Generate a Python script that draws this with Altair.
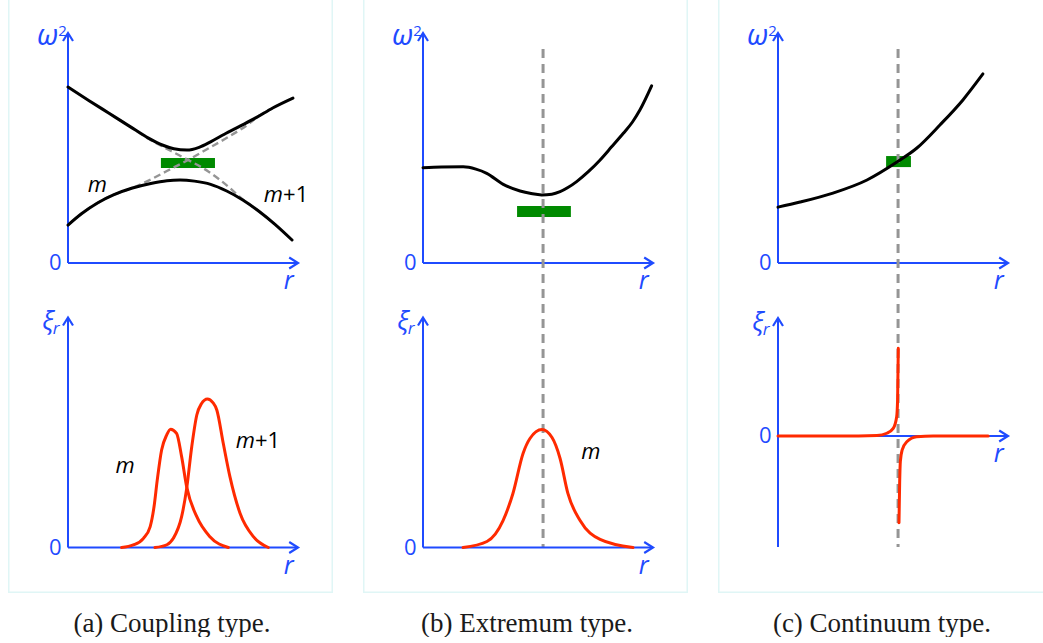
import altair as alt
import pandas as pd

# ---------------- data (r in axis units, axis arrow at r = 10) ----------------
# (a) coupling type: coupled omega^2 branches and the uncoupled m / m+1 branches
A_UP_R = [0, 0.9, 1.8, 2.7, 3.5, 4.1, 4.6, 5.17, 5.7, 6.2, 6.8, 7.5, 8.2, 8.9, 9.78]
A_UP_W = [7.65, 7.07, 6.5, 5.93, 5.43, 5.13, 4.97, 4.91, 5.03, 5.27, 5.6, 5.96, 6.33, 6.74, 7.17]
A_LO_R = [0, 0.6, 1.3, 2.0, 2.8, 3.6, 4.3, 4.87, 5.5, 6.2, 6.9, 7.6, 8.3, 9.0, 9.74]
A_LO_W = [1.65, 2.15, 2.62, 2.97, 3.26, 3.46, 3.58, 3.61, 3.56, 3.42, 3.13, 2.74, 2.25, 1.68, 1.0]
A_M_R = [0, 0.6, 1.3, 2.0, 2.8, 3.5, 4.3, 5.22, 6.1, 7.0, 7.9, 8.2, 8.9]
A_M_W = [1.65, 2.15, 2.62, 2.97, 3.26, 3.58, 4.0, 4.48, 4.98, 5.5, 6.08, 6.33, 6.74]
A_M1_R = [1.8, 2.7, 3.5, 4.5, 5.22, 6.1, 6.6, 7.04, 7.6, 8.3, 9.0]
A_M1_W = [6.5, 5.93, 5.40, 4.86, 4.48, 3.98, 3.62, 3.26, 2.76, 2.25, 1.68]
A_BAR_R = [4.04, 6.39]
A_BAR_W = [4.13, 4.57]
# (a) eigenfunctions
A_XM_R = [2.33, 2.84, 3.28, 3.57, 3.74, 3.88, 4.07, 4.29, 4.46, 4.72, 4.94, 5.16, 5.6, 6.17, 6.97]
A_XM = [0, 0.11, 0.4, 0.9, 1.77, 2.93, 4.24, 4.89, 5.14, 4.96, 3.95, 2.64, 1.34, 0.47, 0]
A_XM1_R = [3.78, 4.3, 4.58, 4.94, 5.16, 5.38, 5.6, 5.8, 6.06, 6.3, 6.47, 6.75, 7.04, 7.48,
           8.06, 8.71]
A_XM1 = [0, 0.12, 0.4, 1.34, 2.57, 4.38, 5.76, 6.25, 6.46, 6.3, 5.98, 4.53, 3.08, 1.49,
         0.47, 0]

# (b) extremum type
B_W_R = [0, 0.8, 1.75, 2.3, 2.77, 3.49, 4.22, 4.7, 5.16, 5.6, 5.96, 6.3, 6.68, 7.2,
         7.7, 8.2, 8.71, 9.1, 9.43, 9.94]
B_W = [4.14, 4.17, 4.18, 4.08, 3.9, 3.42, 3.13, 3.02, 2.96, 2.99, 3.1, 3.28, 3.54, 3.98,
       4.48, 5.05, 5.64, 6.12, 6.65, 7.7]
B_BAR_R = [4.09, 6.43]
B_BAR_W = [2.0, 2.48]
B_XI_R = [1.74, 2.78, 3.48, 3.91, 4.35, 4.65, 5.17, 5.61, 5.96, 6.3, 6.83, 7.7, 9.13]
B_XI = [0, 0.26, 1.17, 2.35, 4.09, 4.74, 5.13, 4.78, 3.87, 2.35, 1.17, 0.35, 0]

# (c) continuum type
C_W_R = [0, 0.96, 2.39, 3.87, 5.17, 6.04, 7.04, 8.04, 8.91]
C_W = [2.43, 2.65, 3.04, 3.61, 4.39, 5.0, 6.0, 7.09, 8.22]
C_BAR_R = [4.7, 5.78]
C_BAR_W = [4.17, 4.65]
C_XL_R = [0, 2.0, 3.5, 4.3, 4.73, 5.01, 5.16, 5.2, 5.23]
C_XL = [0, 0, 0, 0.02, 0.12, 0.33, 0.84, 1.57, 3.81]
C_XR_R = [5.26, 5.29, 5.32, 5.4, 5.6, 6.03, 6.75, 9.14]
C_XR = [-3.77, -2.0, -1.1, -0.6, -0.25, -0.03, 0, 0]

# resonance radius (dashed line) in (b) and (c), with its extent in omega^2 units
R_RES = 5.22
RES_W_TOP = 9.3
RES_W_BOTTOM = [-12.39, -12.35]

# axis extents
R_AXIS_END = 10
W_AXIS_END = 10
XI_AXIS_AB = [0, 10]
XI_AXIS_C = [-4.83, 5.13]

CAPTIONS = ["(a) Coupling type.", "(b) Extremum type.", "(c) Continuum type."]

# ---------------- styling / geometry ----------------
BLUE = "#1f4bff"
RED = "#ff2a00"
GREEN = "#008a00"
GRAY = "#959595"
FRAME = "#e0f6f6"
FONT = "'Open Sans', 'Noto Sans', 'DejaVu Sans', sans-serif"
SERIF = "'Liberation Serif', 'DejaVu Serif', serif"
ARROW_RIGHT = "M-1.6,-1L0,0L-1.6,1"
ARROW_UP = "M-1,1.6L0,0L1,1.6"

PX = 23.0            # pixels per unit on both axes
COL_W, COL_H = 325, 593
ORIGIN_X = 60        # pixel position of r = 0 inside a column
TOP_ORIGIN = 263     # pixel row of omega^2 = 0
EDGE = 1.5           # thickness of the panel frame

X_SCALE = alt.Scale(domain=[-ORIGIN_X / PX, (COL_W - ORIGIN_X) / PX], nice=False, zero=False)


def yscale(origin_px):
    return alt.Scale(domain=[-(COL_H - origin_px) / PX, origin_px / PX], nice=False, zero=False)


def xy(ys, yf="v"):
    return dict(x=alt.X("r:Q", scale=X_SCALE, axis=None),
                y=alt.Y(f"{yf}:Q", scale=ys, axis=None))


def curve(r, v, ys, color, width=3.0, dash=None):
    kw = dict(color=color, strokeWidth=width, interpolate="monotone", strokeCap="round")
    if dash:
        kw["strokeDash"] = dash
        kw["strokeCap"] = "butt"
    return alt.Chart(pd.DataFrame({"r": r, "v": v})).mark_line(**kw).encode(**xy(ys))


def bar(r, w, ys):
    df = pd.DataFrame({"r": [r[0]], "r2": [r[1]], "v": [w[0]], "v2": [w[1]]})
    return alt.Chart(df).mark_rect(color=GREEN).encode(**xy(ys), x2="r2:Q", y2="v2:Q")


def vline(r, top, bottom, ys):
    df = pd.DataFrame({"r": [r], "v": [top], "v2": [bottom]})
    return alt.Chart(df).mark_rule(color=GRAY, strokeWidth=3, strokeDash=[9, 6]).encode(
        **xy(ys), y2="v2:Q")


def axes(ys, v_lo, v_hi):
    h = alt.Chart(pd.DataFrame({"r": [0], "r2": [R_AXIS_END], "v": [0]})).mark_rule(
        color=BLUE, strokeWidth=2).encode(**xy(ys), x2="r2:Q")
    v = alt.Chart(pd.DataFrame({"r": [0], "v": [v_lo], "v2": [v_hi]})).mark_rule(
        color=BLUE, strokeWidth=2).encode(**xy(ys), y2="v2:Q")
    ar = alt.Chart(pd.DataFrame({"r": [R_AXIS_END], "v": [0]})).mark_point(
        shape=ARROW_RIGHT, size=121, color=BLUE, strokeWidth=2.2, opacity=1,
        filled=False).encode(**xy(ys))
    au = alt.Chart(pd.DataFrame({"r": [0], "v": [v_hi]})).mark_point(
        shape=ARROW_UP, size=100, color=BLUE, strokeWidth=2.2, opacity=1,
        filled=False).encode(**xy(ys))
    return [h, v, ar, au]


def text(rows, ys, size, color, align="center", baseline="alphabetic", italic=False, font=FONT):
    df = pd.DataFrame(rows, columns=["t", "r", "v"])
    return alt.Chart(df).mark_text(
        font=font, fontSize=size, fontStyle="italic" if italic else "normal",
        color=color, align=align, baseline=baseline).encode(**xy(ys), text="t:N")


def axis_labels(ys, kind, v_hi):
    out = []
    if kind == "w":
        out.append(text([("ω", -0.42, v_hi - 0.5)], ys, 29, BLUE, align="right", italic=True))
        out.append(text([("2", -0.42, v_hi - 0.12)], ys, 15, BLUE, align="left"))
    else:
        out.append(text([("ξ", -0.62, v_hi - 0.55)], ys, 26, BLUE, align="right", italic=True))
        out.append(text([("r", -0.66, v_hi - 0.72)], ys, 17, BLUE, align="left", italic=True))
    out.append(text([("0", -0.28, 0)], ys, 22, BLUE, align="right", baseline="middle"))
    out.append(text([("r", 9.6, -1.15)], ys, 25, BLUE, italic=True))
    return out


def mode_label(ys, r, v, plus_one=False):
    if not plus_one:
        return [text([("m", r, v)], ys, 22, "black", italic=True)]
    return [text([("m", r, v)], ys, 22, "black", align="right", italic=True),
            text([("+1", r, v)], ys, 22, "black", align="left")]


def edge(x0, x1, y0, y1):
    # thin filled strip used for the panel frame
    return alt.Chart(alt.Data(values=[{}])).mark_rect(color=FRAME, strokeWidth=0).encode(
        x=alt.value(x0), x2=alt.value(x1), y=alt.value(y0), y2=alt.value(y1))


def deco(idx, right_edge=True):
    layers = [edge(0, EDGE, 0, COL_H), edge(0, COL_W, COL_H - EDGE, COL_H)]
    if right_edge:
        layers.append(edge(COL_W - EDGE, COL_W, 0, COL_H))
    cap = alt.Data(values=[{"cap": CAPTIONS[idx]}])
    layers.append(alt.Chart(cap).mark_text(
        font=SERIF, fontSize=27, color="#1a1a1a", align="center", baseline="alphabetic").encode(
        x=alt.value(164), y=alt.value(632), text="cap:N"))
    return layers


def column(top_layers, bottom_layers, deco_layers):
    return alt.layer(*deco_layers, alt.layer(*top_layers), alt.layer(*bottom_layers)).resolve_scale(
        y="independent").properties(width=COL_W, height=COL_H)


# ---------------- (a) coupling type ----------------
ta = yscale(TOP_ORIGIN)
ba = yscale(547.5)
col_a = column(
    axes(ta, 0, W_AXIS_END)
    + [bar(A_BAR_R, A_BAR_W, ta),
       curve(A_M_R, A_M_W, ta, GRAY, 2.4, [7, 4]),
       curve(A_M1_R, A_M1_W, ta, GRAY, 2.4, [7, 4]),
       curve(A_UP_R, A_UP_W, ta, "black"),
       curve(A_LO_R, A_LO_W, ta, "black")]
    + axis_labels(ta, "w", W_AXIS_END)
    + mode_label(ta, 1.28, 3.09) + mode_label(ta, 9.35, 2.65, plus_one=True),
    axes(ba, XI_AXIS_AB[0], XI_AXIS_AB[1])
    + [curve(A_XM_R, A_XM, ba, RED), curve(A_XM1_R, A_XM1, ba, RED)]
    + axis_labels(ba, "xi", XI_AXIS_AB[1])
    + mode_label(ba, 2.48, 3.24) + mode_label(ba, 8.13, 4.33, plus_one=True),
    deco(0),
)

# ---------------- (b) extremum type ----------------
tb = yscale(TOP_ORIGIN)
bb = yscale(547.5)
col_b = column(
    axes(tb, 0, W_AXIS_END)
    + [bar(B_BAR_R, B_BAR_W, tb),
       vline(R_RES, RES_W_TOP, RES_W_BOTTOM[0], tb),
       curve(B_W_R, B_W, tb, "black")]
    + axis_labels(tb, "w", W_AXIS_END),
    axes(bb, XI_AXIS_AB[0], XI_AXIS_AB[1])
    + [curve(B_XI_R, B_XI, bb, RED)]
    + axis_labels(bb, "xi", XI_AXIS_AB[1])
    + mode_label(bb, 7.3, 3.85),
    deco(1),
)

# ---------------- (c) continuum type ----------------
tc = yscale(TOP_ORIGIN)
bc = yscale(436)
col_c = column(
    axes(tc, 0, W_AXIS_END)
    + [bar(C_BAR_R, C_BAR_W, tc),
       vline(R_RES, RES_W_TOP, RES_W_BOTTOM[1], tc),
       curve(C_W_R, C_W, tc, "black")]
    + axis_labels(tc, "w", W_AXIS_END),
    axes(bc, XI_AXIS_C[0], XI_AXIS_C[1])
    + [curve(C_XL_R, C_XL, bc, RED), curve(C_XR_R, C_XR, bc, RED)]
    + axis_labels(bc, "xi", XI_AXIS_C[1]),
    deco(2, right_edge=False),
)

chart = alt.hconcat(col_a, col_b, col_c, spacing=30).properties(
    padding={"left": 8, "top": 0, "right": 0, "bottom": 0},
    background="white",
).configure_view(stroke=None)

chart.save("out.html", embed_options={"renderer": "svg", "actions": False})
